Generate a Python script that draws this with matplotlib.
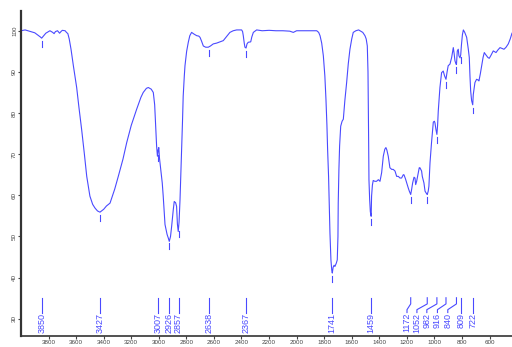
import numpy as np
import matplotlib
matplotlib.use("Agg")
import matplotlib.pyplot as plt

plt.rcParams['font.family'] = ['Liberation Sans', 'DejaVu Sans']

# spectrum (wavenumber cm-1, %T)
wavenumber = [4000, 3970, 3950, 3930, 3900, 3880, 3860, 3850, 3840, 3820, 3800, 3790,
              3770, 3760, 3750, 3735, 3720, 3710, 3700, 3680, 3670, 3660, 3650, 3637,
              3620, 3596, 3580, 3560, 3540, 3523, 3500, 3480, 3463, 3445, 3427, 3400,
              3380, 3354, 3320, 3294, 3260, 3233, 3200, 3161, 3130, 3113, 3090, 3076,
              3055, 3040, 3030, 3022, 3016, 3010, 3005, 3000, 2995, 2985, 2975, 2968,
              2955, 2940, 2931, 2924, 2915, 2907, 2895, 2888, 2878, 2871, 2865, 2859,
              2853, 2846, 2839, 2834, 2828, 2823, 2815, 2810, 2798, 2786, 2775, 2762,
              2745, 2725, 2710, 2701, 2690, 2677, 2660, 2641, 2625, 2605, 2580, 2556,
              2532, 2510, 2484, 2460, 2435, 2399, 2392, 2387, 2380, 2375, 2367, 2360,
              2351, 2333, 2325, 2314, 2290, 2250, 2200, 2150, 2100, 2050, 2024, 2000,
              1950, 1900, 1854, 1840, 1830, 1818, 1806, 1795, 1787, 1780, 1775, 1768,
              1763, 1758, 1751, 1745, 1741, 1735, 1728, 1722, 1712, 1705, 1700, 1698,
              1693, 1688, 1680, 1670, 1661, 1650, 1637, 1625, 1613, 1600, 1589, 1570,
              1550, 1540, 1520, 1504, 1495, 1487, 1482, 1480, 1477, 1475, 1470, 1465,
              1459, 1456, 1450, 1444, 1432, 1420, 1407, 1395, 1383, 1371, 1360, 1352,
              1345, 1335, 1323, 1310, 1299, 1286, 1274, 1262, 1250, 1238, 1226, 1221,
              1210, 1201, 1190, 1182, 1172, 1165, 1158, 1148, 1141, 1136, 1129, 1117,
              1110, 1105, 1093, 1088, 1076, 1068, 1057, 1052, 1045, 1040, 1032, 1021,
              1008, 1000, 996, 989, 982, 977, 972, 965, 960, 948, 936, 926,
              916, 908, 900, 887, 875, 863, 857, 851, 843, 840, 834, 827,
              822, 814, 809, 804, 797, 790, 780, 766, 754, 747, 742, 737,
              730, 722, 718, 712, 706, 694, 682, 677, 667, 657, 647, 638,
              630, 621, 612, 602, 590, 573, 563, 553, 540, 524, 510, 495,
              480, 464, 450, 437]
transmittance = [100.0, 100.2, 100.0, 99.8, 99.5, 99.0, 98.5, 98.2, 98.6, 99.4, 99.8, 100.0,
                 99.6, 99.3, 99.8, 100.0, 99.4, 99.8, 100.1, 100.0, 99.6, 99.3, 98.0, 95.5,
                 91.5, 86.2, 81.5, 76.0, 70.0, 64.6, 59.8, 57.8, 56.9, 56.2, 55.9, 56.6,
                 57.4, 58.1, 61.5, 64.6, 68.8, 72.8, 77.0, 80.9, 83.8, 85.0, 86.0, 86.2,
                 85.8, 85.0, 82.0, 76.0, 72.0, 69.5, 71.0, 71.6, 69.0, 66.0, 63.0, 59.8,
                 52.9, 50.5, 49.6, 48.8, 50.0, 52.4, 56.5, 58.5, 58.2, 57.3, 53.0, 51.2,
                 53.5, 59.0, 66.3, 72.0, 78.0, 84.1, 89.0, 91.5, 95.0, 97.2, 98.8, 99.6,
                 99.2, 98.8, 98.7, 98.4, 97.5, 96.3, 96.0, 96.0, 96.3, 96.8, 97.0, 97.3,
                 97.6, 98.5, 99.6, 100.0, 100.2, 100.2, 99.8, 98.8, 97.0, 96.0, 95.8, 96.8,
                 97.2, 97.3, 98.5, 99.6, 100.2, 100.0, 100.1, 100.0, 100.0, 99.9, 99.6, 100.0,
                 100.0, 100.0, 100.0, 99.6, 98.8, 97.0, 93.9, 89.0, 83.3, 77.0, 71.1, 64.5,
                 58.1, 50.8, 44.3, 41.8, 41.1, 42.5, 43.0, 42.7, 43.5, 44.3, 50.0, 58.1,
                 66.3, 72.0, 76.8, 78.0, 78.5, 83.0, 87.4, 92.0, 95.5, 98.0, 99.6, 100.0,
                 100.2, 100.0, 99.6, 98.8, 98.0, 96.3, 90.0, 83.3, 72.0, 63.8, 59.0, 56.0,
                 54.9, 59.8, 62.5, 63.6, 63.4, 63.4, 63.8, 63.4, 65.5, 69.5, 71.2, 71.6,
                 71.0, 69.5, 66.7, 66.3, 66.3, 65.9, 64.6, 64.6, 64.2, 64.2, 65.0, 65.0,
                 64.0, 63.0, 61.8, 61.0, 60.2, 61.5, 63.0, 64.4, 64.2, 62.6, 63.4, 65.5,
                 66.7, 66.7, 65.9, 64.6, 63.0, 61.0, 60.4, 60.2, 61.0, 62.2, 67.9, 72.8,
                 77.8, 78.0, 77.6, 76.0, 74.8, 77.0, 80.5, 84.0, 86.2, 89.8, 90.2, 89.0,
                 88.2, 90.0, 91.5, 91.9, 93.5, 95.9, 94.5, 92.7, 91.9, 91.8, 95.1, 95.5,
                 93.9, 93.4, 94.2, 96.5, 99.0, 100.2, 99.6, 98.4, 95.5, 93.5, 89.0, 85.4,
                 83.0, 82.0, 84.5, 86.0, 87.4, 88.2, 88.0, 87.8, 89.5, 91.5, 93.5, 94.7,
                 94.3, 93.9, 93.5, 93.3, 94.0, 95.1, 94.9, 94.7, 95.3, 95.9, 95.7, 95.5,
                 96.0, 96.8, 98.0, 99.4]

# labelled peaks and where their labels sit
peaks = [3850, 3427, 3007, 2926, 2857, 2638, 2367, 1741, 1459, 1172, 1052, 982, 916, 840, 809, 722]
label_at = [3850, 3427, 3007, 2926, 2857, 2638, 2367, 1741, 1459, 1199, 1127, 1055, 978, 903, 809, 722]

x_ticks = list(range(3800, 500, -200))
y_ticks = list(range(30, 101, 10))

blue = '#4a4aff'

fig = plt.figure(figsize=(5.12, 3.47), dpi=100)
ax = fig.add_axes([21/512, 11/347, 491/512, 325/347])

ax.plot(wavenumber, transmittance, color=blue, lw=0.8)

wn_asc = np.array(wavenumber[::-1])
tr_asc = np.array(transmittance[::-1])
for p, lx in zip(peaks, label_at):
    t = np.interp(p, wn_asc, tr_asc)
    ax.plot([p, p], [t - 0.7, t - 2.1], color=blue, lw=0.8)
    if lx == p:
        ax.plot([p, p], [35.1, 31.5], color=blue, lw=0.8)
    else:
        ax.plot([p, p, lx, lx], [35.1, 33.6, 32.2, 31.5], color=blue, lw=0.8)
    ax.text(lx, 31.4, str(p), rotation=90, ha='center', va='top',
            color=blue, fontsize=6.5)

ax.set_xlim(4000, 437)
ax.set_ylim(25.8, 104.8)
ax.set_xticks(x_ticks)
ax.set_yticks(y_ticks)
ax.tick_params(axis='both', labelsize=4.5, colors='#444444', length=2, width=0.8, pad=0.8)
ax.tick_params(axis='y', labelrotation=90)
for lab in ax.get_yticklabels():
    lab.set_va('center')

for s in ['top', 'right']:
    ax.spines[s].set_visible(False)
ax.spines['left'].set_color('#333333')
ax.spines['left'].set_linewidth(1.6)
ax.spines['bottom'].set_color('#333333')
ax.spines['bottom'].set_linewidth(1.2)

fig.savefig('out.png', dpi=100)
